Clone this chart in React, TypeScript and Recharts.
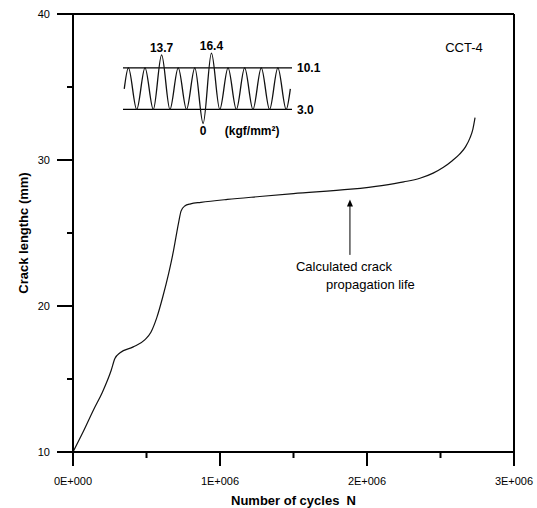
import React from "react";
import {
  LineChart,
  Line,
  XAxis,
  YAxis,
  ReferenceLine,
  ReferenceDot,
} from "recharts";

// crack growth curve
const cycles = [
  0, 70000, 140000, 200000, 260000, 285000, 320000, 410000, 490000, 530000,
  570000, 610000, 650000, 680000, 700000, 720000, 735000, 760000, 800000,
  870000, 1050000, 1270000, 1500000, 1890000, 2100000, 2250000, 2360000,
  2450000, 2520000, 2580000, 2630000, 2670000, 2700000, 2720000, 2735000,
];
const crackLength = [
  10, 11.4, 12.9, 14.1, 15.6, 16.4, 16.8, 17.2, 17.7, 18.2, 19.2, 20.6, 22.2,
  23.6, 24.7, 25.8, 26.5, 26.85, 27.0, 27.1, 27.3, 27.5, 27.7, 28.0, 28.25,
  28.5, 28.75, 29.1, 29.5, 29.95, 30.4, 30.9, 31.5, 32.1, 32.9,
];

const xTicks = [0, 500000, 1000000, 1500000, 2000000, 2500000, 3000000];
const xMajorTicks = [0, 1000000, 2000000, 3000000];
const xTickLabels = ["0E+000", "1E+006", "2E+006", "3E+006"];
const yTicks = [10, 15, 20, 25, 30, 35, 40];
const yMajorTicks = [10, 20, 30, 40];

// load history sketch in the inset (half cycles, drawn stress level)
const insetPhase = [
  -0.5, 0, 1, 2, 3, 4, 5, 6, 7, 8, 9, 10, 11, 12, 13, 14, 15, 16, 17, 18, 19,
  19.5,
];
const insetStress = [
  6.5, 10.1, 3.0, 10.1, 3.0, 12.3, 3.0, 10.1, 3.0, 10.1, 0.6, 12.6, 3.0, 10.1,
  3.0, 10.1, 3.0, 10.1, 3.0, 10.1, 3.0, 6.5,
];
const insetLevels = [10.1, 3.0];
const insetLevelLabels = ["10.1", "3.0"];

const FONT = "Liberation Sans, Arial, sans-serif";

const data = cycles.map((n, i) => ({ n, c: crackLength[i] }));
const insetData = insetPhase.map((t, i) => ({ t, s: insetStress[i] }));

const XTick = (props: any) => {
  const { x, y, payload } = props;
  const idx = xMajorTicks.indexOf(payload.value);
  const major = idx >= 0;
  return (
    <g>
      <line x1={x} y1={y} x2={x} y2={y + (major ? 14 : 6)} stroke="#000" strokeWidth={2} />
      {major && (
        <text x={x} y={y + 33} textAnchor="middle" fontSize={11} fontFamily={FONT} fill="#000">
          {xTickLabels[idx]}
        </text>
      )}
    </g>
  );
};

const YTick = (props: any) => {
  const { x, y, payload } = props;
  const major = yMajorTicks.includes(payload.value);
  return (
    <g>
      <line x1={x - (major ? 16 : 6)} y1={y} x2={x} y2={y} stroke="#000" strokeWidth={2} />
      {major && (
        <text x={x - 23} y={y + 4} textAnchor="end" fontSize={11} fontFamily={FONT} fill="#000">
          {payload.value}
        </text>
      )}
    </g>
  );
};

const Arrow = (props: any) => {
  const { x1, y1, x2, y2 } = props;
  const bx = Math.max(y1, y2) === y1 ? x1 : x2;
  const by = Math.max(y1, y2);
  const ty = Math.min(y1, y2);
  return (
    <g>
      <line x1={bx} y1={by} x2={bx} y2={ty + 5} stroke="#000" strokeWidth={1} />
      <path d={`M${bx},${ty} L${bx - 3},${ty + 7} L${bx + 3},${ty + 7} Z`} fill="#000" />
      <text x={bx - 54} y={by + 16} fontSize={13} fontFamily={FONT} fill="#000">
        Calculated crack
      </text>
      <text x={bx - 24} y={by + 34} fontSize={13} fontFamily={FONT} fill="#000">
        propagation life
      </text>
    </g>
  );
};

const insetLabel = { fontSize: 12, fontWeight: "bold", fontFamily: FONT, fill: "#000" };

export default function App() {
  return (
    <div style={{ position: "absolute", left: 0, top: 0, width: 537, height: 508, background: "#fff" }}>
      <LineChart
        width={537}
        height={508}
        data={data}
        margin={{ top: 14, right: 23, bottom: 0, left: 0 }}
      >
        <XAxis
          dataKey="n"
          type="number"
          domain={[0, 3000000]}
          ticks={xTicks}
          interval={0}
          height={56}
          tickSize={0}
          tickMargin={0}
          tickLine={false}
          tick={<XTick />}
          axisLine={{ stroke: "#000", strokeWidth: 2 }}
          label={{
            value: "Number of cycles\u00A0\u00A0N",
            position: "insideBottom",
            offset: 3,
            style: { fontSize: 13, fontWeight: "bold", fontFamily: FONT, fill: "#000" },
          }}
        />
        <YAxis
          dataKey="c"
          type="number"
          domain={[10, 40]}
          ticks={yTicks}
          interval={0}
          width={73}
          tickSize={0}
          tickMargin={0}
          tickLine={false}
          tick={<YTick />}
          axisLine={{ stroke: "#000", strokeWidth: 2 }}
          label={{
            value: "Crack lengthc (mm)",
            angle: -90,
            position: "insideLeft",
            offset: 23,
            style: { fontSize: 13, fontWeight: "bold", fontFamily: FONT, fill: "#000", textAnchor: "middle" },
          }}
        />
        <ReferenceLine y={40} stroke="#000" strokeWidth={2} />
        <ReferenceLine x={3000000} stroke="#000" strokeWidth={2} />
        <ReferenceLine
          segment={[
            { x: 1884000, y: 23.5 },
            { x: 1884000, y: 27.3 },
          ]}
          shape={Arrow}
        />
        <ReferenceDot
          x={2660000}
          y={37.7}
          r={0}
          fill="none"
          stroke="none"
          label={{ value: "CCT-4", position: "center", style: { fontSize: 13, fontFamily: FONT, fill: "#000" } }}
        />
        <Line
          type="monotone"
          dataKey="c"
          stroke="#111"
          strokeWidth={1.2}
          dot={false}
          activeDot={false}
          isAnimationActive={false}
        />
      </LineChart>

      <div style={{ position: "absolute", left: 118, top: 36 }}>
        <LineChart
          width={209}
          height={106}
          data={insetData}
          margin={{ top: 16, right: 35, bottom: 18, left: 5 }}
        >
          <XAxis dataKey="t" type="number" domain={[-0.65, 19.7]} hide />
          <YAxis type="number" domain={[0.5, 12.8]} hide />
          {insetLevels.map((v, i) => (
            <ReferenceLine
              key={v}
              y={v}
              stroke="#000"
              strokeWidth={1.3}
              label={{ value: insetLevelLabels[i], position: "right", offset: 5, style: insetLabel }}
            />
          ))}
          <ReferenceDot x={4} y={12.3} r={0} fill="none" stroke="none"
            label={{ value: "13.7", position: "top", offset: 3, style: insetLabel }} />
          <ReferenceDot x={10} y={12.6} r={0} fill="none" stroke="none"
            label={{ value: "16.4", position: "top", offset: 3, style: insetLabel }} />
          <ReferenceDot x={9} y={0.6} r={0} fill="none" stroke="none"
            label={{ value: "0", position: "bottom", offset: 3, style: insetLabel }} />
          <ReferenceDot x={14.9} y={0.6} r={0} fill="none" stroke="none"
            label={{ value: "(kgf/mm²)", position: "bottom", offset: 3, style: insetLabel }} />
          <Line
            type="monotone"
            dataKey="s"
            stroke="#111"
            strokeWidth={1.3}
            dot={false}
            activeDot={false}
            isAnimationActive={false}
          />
        </LineChart>
      </div>
    </div>
  );
}
